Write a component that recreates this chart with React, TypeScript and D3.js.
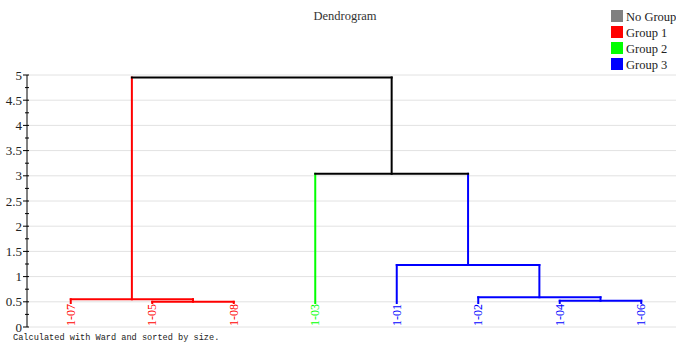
import React from "react";
import * as d3 from "d3";

// Leaves in display order, with their group
const leafLabels = ["1-07", "1-05", "1-08", "1-03", "1-01", "1-02", "1-04", "1-06"];
const leafGroups = [1, 1, 1, 2, 3, 3, 3, 3];

// Linkage: node n+i joins mergeLeft[i] and mergeRight[i] at mergeHeights[i]
const mergeLeft = [1, 0, 6, 5, 4, 3, 9];
const mergeRight = [2, 8, 7, 10, 11, 12, 13];
const mergeHeights = [0.5, 0.55, 0.52, 0.59, 1.23, 3.04, 4.95];

const yTicks = [0, 0.5, 1, 1.5, 2, 2.5, 3, 3.5, 4, 4.5, 5];
const legendNames = ["No Group", "Group 1", "Group 2", "Group 3"];
const groupColors = ["#808080", "#ff0000", "#00ff00", "#0000ff"];

const W = 676;
const H = 342;
const serif = "'Liberation Serif', 'Times New Roman', serif";

export default function App() {
  const y = d3.scaleLinear().domain([0, 5]).range([327, 75]);
  const x = d3.scalePoint<string>().domain(leafLabels).range([30, 682]).padding(0.5);
  const axisX = 27;
  const labelLen = 24;

  type Node = { x: number; h: number; group: number; top: number };
  const nodes: Node[] = leafLabels.map((l, i) => ({
    x: x(l) as number,
    h: 0,
    group: leafGroups[i],
    top: y(0) - labelLen,
  }));
  const segs: { x1: number; y1: number; x2: number; y2: number; c: string }[] = [];
  const color = (g: number) => (g > 0 ? groupColors[g] : "#000000");

  mergeHeights.forEach((h, i) => {
    const a = nodes[mergeLeft[i]];
    const b = nodes[mergeRight[i]];
    const g = a.group === b.group ? a.group : 0;
    const yy = y(h);
    // vertical legs in each child's colour
    [a, b].forEach((c) => {
      segs.push({ x1: c.x, y1: c.top, x2: c.x, y2: yy, c: color(c.group) });
    });
    segs.push({ x1: a.x, y1: yy, x2: b.x, y2: yy, c: color(g) });
    nodes.push({ x: (a.x + b.x) / 2, h, group: g, top: yy });
  });

  const minorTicks = d3.range(0, 5.001, 0.25).filter((t) => !yTicks.some((m) => Math.abs(m - t) < 1e-6));

  return (
    <svg width={W} height={H} style={{ position: "absolute", left: 0, top: 0 }}>
      <rect width={W} height={H} fill="#ffffff" />
      {/* grid */}
      {yTicks.map((t) => (
        <line key={"g" + t} x1={axisX} x2={W} y1={y(t)} y2={y(t)} stroke="#e2e2e2" strokeWidth={1} />
      ))}
      {/* y axis */}
      <line x1={axisX} x2={axisX} y1={y(0)} y2={y(5)} stroke="#000" strokeWidth={1} />
      {yTicks.map((t) => (
        <g key={"t" + t}>
          <line x1={axisX - 4} x2={axisX + 2} y1={y(t)} y2={y(t)} stroke="#000" />
          <text x={axisX - 5} y={y(t)} dy="0.35em" textAnchor="end" fontFamily={serif} fontSize={13} fill="#222">
            {t}
          </text>
        </g>
      ))}
      {minorTicks.map((t) => (
        <line key={"m" + t} x1={axisX - 2} x2={axisX + 2} y1={y(t)} y2={y(t)} stroke="#000" />
      ))}
      {/* dendrogram links */}
      {segs.map((s, i) => (
        <line key={"s" + i} x1={s.x1} y1={s.y1} x2={s.x2} y2={s.y2} stroke={s.c} strokeWidth={2} strokeLinecap="square" />
      ))}
      {/* leaf labels */}
      {leafLabels.map((l, i) => (
        <text
          key={l}
          transform={`translate(${x(l)},${y(0) - 1}) rotate(-90)`}
          dy="0.35em"
          textAnchor="start"
          fontFamily={serif}
          fontSize={12}
          fill={groupColors[leafGroups[i]]}
        >
          {l}
        </text>
      ))}
      {/* title */}
      <text x={345} y={20} textAnchor="middle" fontFamily={serif} fontSize={12.5} fill="#333">
        Dendrogram
      </text>
      {/* legend */}
      {legendNames.map((n, i) => (
        <g key={n} transform={`translate(611,${10 + i * 16})`}>
          <rect width={12} height={12} fill={groupColors[i]} />
          <text x={15} y={10.5} fontFamily={serif} fontSize={12.5} fill="#222">
            {n}
          </text>
        </g>
      ))}
      <text x={13} y={340} fontFamily="'Liberation Mono', 'Courier New', monospace" fontSize={8.6} fill="#222">
        Calculated with Ward and sorted by size.
      </text>
    </svg>
  );
}
